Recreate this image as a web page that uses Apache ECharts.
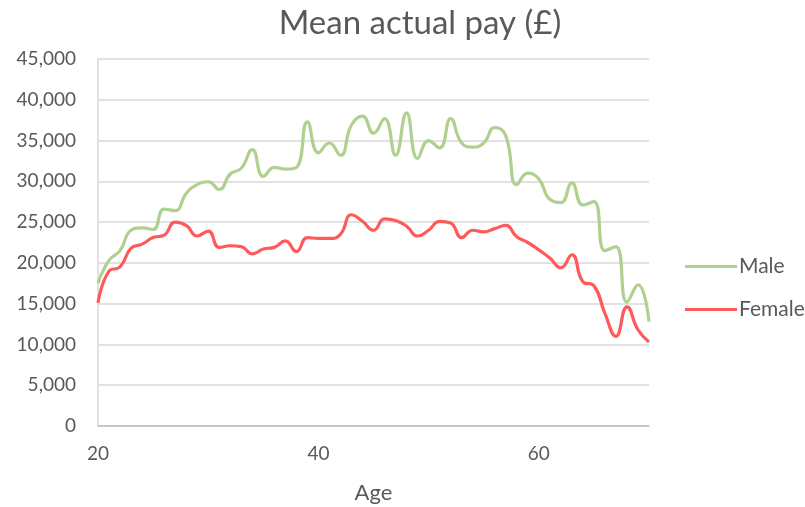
<!DOCTYPE html>
<html>
<head>
<meta charset="utf-8">
<script src="https://cdn.jsdelivr.net/npm/echarts@6/dist/echarts.min.js"></script>
<style>
  html, body { margin: 0; padding: 0; background: #ffffff; }
  #chart { width: 805px; height: 507px; }
</style>
</head>
<body>
<div id="chart"></div>
<script>
// Ages 20 to 70, one point per year of age
const ages = [
  20, 21, 22, 23, 24, 25, 26, 27, 28, 29,
  30, 31, 32, 33, 34, 35, 36, 37, 38, 39,
  40, 41, 42, 43, 44, 45, 46, 47, 48, 49,
  50, 51, 52, 53, 54, 55, 56, 57, 58, 59,
  60, 61, 62, 63, 64, 65, 66, 67, 68, 69,
  70
];

// Mean actual pay (£) by age
const malePay = [
  17500, 20300, 21500, 24000, 24300, 24100, 26600, 26400, 28500, 29600,
  29950, 29000, 30900, 31600, 33900, 30600, 31700, 31500, 31700, 37300,
  33500, 34700, 33200, 36900, 38000, 35900, 37700, 33200, 38400, 32800,
  35000, 34100, 37700, 34700, 34200, 34700, 36600, 35600, 29600, 31000,
  30300, 27800, 27400, 29800, 27100, 27500, 21500, 22000, 15200, 17300,
  12800
];

const femalePay = [
  15100, 19000, 19500, 21800, 22300, 23100, 23400, 25000, 24600, 23300,
  23900, 21900, 22100, 22000, 21100, 21700, 21900, 22700, 21400, 23100,
  23000, 23000, 23500, 25900, 25100, 24000, 25400, 25200, 24500, 23300,
  24000, 25100, 24900, 23100, 24000, 23800, 24200, 24600, 23200, 22500,
  21600, 20600, 19400, 21000, 17700, 17200, 13800, 11000, 14600, 11800,
  10300
];

const seriesNames = ['Male', 'Female'];
const seriesColors = ['#AFD08E', '#FF5A5A'];

const chart = echarts.init(document.getElementById('chart'), null, { renderer: 'canvas' });

const textColor = '#595959';
const fontFamily = 'Lato, "Noto Sans", sans-serif';

chart.setOption({
  animation: false,
  backgroundColor: '#ffffff',
  title: {
    text: 'Mean actual pay (£)',
    left: 415,
    textAlign: 'center',
    top: 2,
    textStyle: { color: textColor, fontSize: 33, fontWeight: 'normal', fontFamily: fontFamily }
  },
  grid: { left: 98, right: 156, top: 59, bottom: 81, containLabel: false, outerBoundsMode: 'none' },
  legend: {
    orient: 'vertical',
    left: 680,
    top: 251,
    itemWidth: 52,
    itemHeight: 3,
    itemGap: 22,
    icon: 'rect',
    textStyle: { color: textColor, fontSize: 21, fontFamily: fontFamily, padding: [0, 0, 0, -3] },
    data: seriesNames
  },
  xAxis: {
    type: 'category',
    data: ages,
    boundaryGap: false,
    name: 'Age',
    nameLocation: 'middle',
    nameGap: 56,
    nameTextStyle: { color: textColor, fontSize: 22, fontFamily: fontFamily },
    axisLine: { show: true, lineStyle: { color: '#BFBFBF', width: 1.5 } },
    axisTick: { show: false },
    axisLabel: {
      interval: 19,
      color: textColor,
      fontSize: 19,
      fontFamily: fontFamily,
      margin: 18
    },
    splitLine: { show: false }
  },
  yAxis: {
    type: 'value',
    min: 0,
    max: 45000,
    interval: 5000,
    axisLine: { show: true, lineStyle: { color: '#D9D9D9', width: 1.5 } },
    axisTick: { show: false },
    axisLabel: {
      color: textColor,
      fontSize: 19,
      fontFamily: fontFamily,
      margin: 22,
      formatter: function (v) { return v.toLocaleString('en-GB'); }
    },
    splitLine: { show: true, lineStyle: { color: '#D9D9D9', width: 1.5 } }
  },
  series: [
    {
      name: seriesNames[0],
      type: 'line',
      data: malePay,
      smooth: 0.5,
      symbol: 'none',
      color: seriesColors[0],
      lineStyle: { width: 3.2, color: seriesColors[0] }
    },
    {
      name: seriesNames[1],
      type: 'line',
      data: femalePay,
      smooth: 0.5,
      symbol: 'none',
      color: seriesColors[1],
      lineStyle: { width: 3.2, color: seriesColors[1] }
    }
  ]
});
</script>
</body>
</html>
